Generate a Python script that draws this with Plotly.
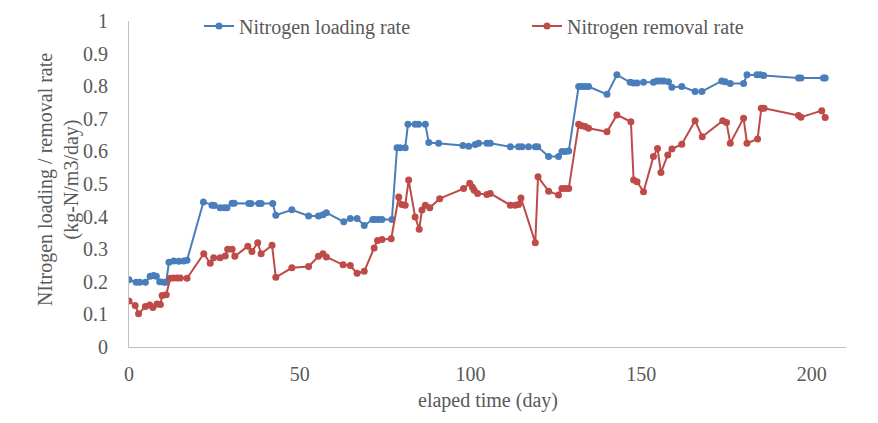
import plotly.graph_objects as go

# Nitrogen loading rate (blue)
load_day = [0, 2.1, 3.1, 4.8, 6.2, 7.2, 8.0, 9.0, 10.2, 10.9, 11.7, 13.1, 14.6, 16.0, 17.0,
            21.8, 24.3, 25.0, 26.7, 27.9, 28.7, 30.2, 30.8, 35.1, 35.7, 38.0, 38.7, 42.1, 43.0,
            47.7, 52.6, 55.5, 56.8, 57.8, 62.9, 64.8, 66.8, 68.9, 71.4, 72.1, 73.1, 74.1, 77.0,
            78.5, 79.4, 80.9, 81.7, 83.8, 84.8, 86.8, 87.8, 90.7, 97.8, 99.5, 101.4, 102.4, 104.8, 105.8,
            111.7, 114.1, 115.1, 117.0, 119.0, 119.7, 122.9, 125.8, 126.8, 127.8, 128.8,
            131.7, 132.6, 133.6, 134.6, 140.0, 142.9, 146.8, 147.8, 148.8, 150.7, 153.6, 154.6,
            155.6, 156.6, 158.0, 159.0, 161.9, 165.8, 167.8, 173.6, 174.6, 176.1, 180.0, 181.0,
            183.9, 184.9, 185.9, 196.1, 196.8, 203.4, 203.9]
load_rate = [0.206, 0.199, 0.199, 0.199, 0.217, 0.219, 0.217, 0.200, 0.199, 0.199, 0.260, 0.264, 0.263, 0.264, 0.266,
             0.445, 0.435, 0.434, 0.427, 0.427, 0.427, 0.441, 0.441, 0.440, 0.440, 0.440, 0.440, 0.440, 0.404,
             0.421, 0.402, 0.402, 0.406, 0.412, 0.384, 0.394, 0.394, 0.373, 0.391, 0.391, 0.391, 0.391, 0.391,
             0.611, 0.611, 0.611, 0.683, 0.683, 0.683, 0.683, 0.627, 0.625, 0.618, 0.616, 0.621, 0.625, 0.625, 0.625,
             0.614, 0.614, 0.614, 0.614, 0.614, 0.614, 0.584, 0.584, 0.600, 0.600, 0.601,
             0.799, 0.799, 0.799, 0.799, 0.775, 0.835, 0.812, 0.810, 0.810, 0.812, 0.812, 0.816,
             0.816, 0.816, 0.814, 0.797, 0.799, 0.784, 0.784, 0.816, 0.814, 0.808, 0.808, 0.835,
             0.835, 0.835, 0.833, 0.825, 0.825, 0.825, 0.825]

# Nitrogen removal rate (red)
rem_day = [0, 1.8, 2.8, 4.8, 6.1, 7.0, 8.2, 9.2, 9.7, 10.9, 12.1, 13.1, 14.1, 15.0, 17.0,
           21.9, 23.8, 24.8, 26.7, 28.2, 28.9, 30.2, 31.0, 34.8, 36.0, 37.7, 38.7, 41.9, 43.0,
           47.7, 52.6, 55.5, 56.8, 57.8, 62.7, 64.8, 66.8, 68.9, 71.8, 72.8, 74.1, 76.8,
           79.0, 79.9, 80.9, 81.9, 83.8, 85.0, 85.8, 86.8, 88.1, 91.0, 98.0, 99.8, 100.6, 101.1,
           102.1, 104.8, 105.8, 111.7, 113.1, 114.1, 114.8, 119.0, 119.8, 122.9, 125.8, 126.8,
           127.8, 128.8, 131.7, 132.6, 133.6, 134.6, 140.0, 142.9, 147.0, 147.8, 148.8, 150.7,
           153.6, 154.8, 155.8, 157.8, 159.0, 161.9, 165.8, 167.9, 173.9, 175.0, 176.1, 180.0,
           181.0, 184.1, 185.2, 186.0, 196.1, 196.8, 202.9, 203.9]
rem_rate = [0.141, 0.127, 0.102, 0.124, 0.129, 0.121, 0.132, 0.130, 0.158, 0.160, 0.211, 0.212, 0.212, 0.212, 0.211,
            0.286, 0.257, 0.274, 0.274, 0.279, 0.300, 0.300, 0.278, 0.309, 0.293, 0.320, 0.286, 0.312, 0.214,
            0.243, 0.247, 0.278, 0.286, 0.276, 0.252, 0.250, 0.226, 0.232, 0.304, 0.327, 0.330, 0.332,
            0.460, 0.437, 0.435, 0.512, 0.399, 0.361, 0.420, 0.435, 0.427, 0.455, 0.486, 0.502, 0.490, 0.481,
            0.471, 0.468, 0.471, 0.435, 0.435, 0.437, 0.457, 0.320, 0.522, 0.478, 0.466, 0.486,
            0.486, 0.486, 0.683, 0.679, 0.676, 0.671, 0.660, 0.712, 0.691, 0.512, 0.507, 0.476,
            0.584, 0.609, 0.535, 0.589, 0.607, 0.622, 0.694, 0.645, 0.694, 0.689, 0.625, 0.702,
            0.625, 0.638, 0.732, 0.732, 0.710, 0.705, 0.725, 0.704]

x_ticks = [0, 50, 100, 150, 200]
y_ticks = [0, 0.1, 0.2, 0.3, 0.4, 0.5, 0.6, 0.7, 0.8, 0.9, 1]
y_tick_text = ["0", "0.1", "0.2", "0.3", "0.4", "0.5", "0.6", "0.7", "0.8", "0.9", "1"]

BLUE = "#4A7EBB"
RED = "#BE4B48"
TXT = "#595959"
FONT = "Liberation Serif"
FS = 20

fig = go.Figure()
fig.add_trace(go.Scatter(x=load_day, y=load_rate, mode="lines+markers", name="Nitrogen loading rate",
                         line=dict(color=BLUE, width=2), marker=dict(color=BLUE, size=7)))
fig.add_trace(go.Scatter(x=rem_day, y=rem_rate, mode="lines+markers", name="Nitrogen removal rate",
                         line=dict(color=RED, width=2), marker=dict(color=RED, size=7)))

fig.update_layout(
    width=878, height=423,
    margin=dict(l=121, r=40, t=13, b=84, autoexpand=False),
    paper_bgcolor="white", plot_bgcolor="white",
    font=dict(family=FONT, size=FS, color=TXT),
    showlegend=True,
    legend=dict(orientation="h", x=191 / 878, xref="container",
                y=1 - 18 / 423, yref="container", yanchor="middle",
                xanchor="left", entrywidth=283, entrywidthmode="pixels",
                font=dict(family=FONT, size=FS, color=TXT), bgcolor="rgba(0,0,0,0)",
                itemwidth=30, tracegroupgap=0),
    xaxis=dict(range=[0, 210], tickvals=x_ticks, ticktext=[str(v) for v in x_ticks],
               showgrid=False, zeroline=False, showline=True, linecolor="#BFBFBF", linewidth=1,
               ticks="", ticklabelstandoff=9, automargin=False),
    yaxis=dict(range=[0, 1], tickvals=y_ticks, ticktext=y_tick_text,
               showgrid=False, zeroline=False, showline=True, linecolor="#BFBFBF", linewidth=1,
               ticks="", ticklabelstandoff=16, automargin=False),
    annotations=[
        dict(text="elaped time (day)", xref="paper", yref="paper", x=0.5, y=(339 - 392) / 326,
             xanchor="center", yanchor="middle", showarrow=False,
             font=dict(family=FONT, size=FS, color=TXT)),
        dict(text="NItrogen loading / removal rate<br>(kg-N/m3/day)", xref="paper", yref="paper",
             x=0, xshift=-71, y=0.512, xanchor="center", yanchor="middle", textangle=-90,
             showarrow=False, font=dict(family=FONT, size=FS, color=TXT)),
    ],
)

fig.write_html("out.html")
